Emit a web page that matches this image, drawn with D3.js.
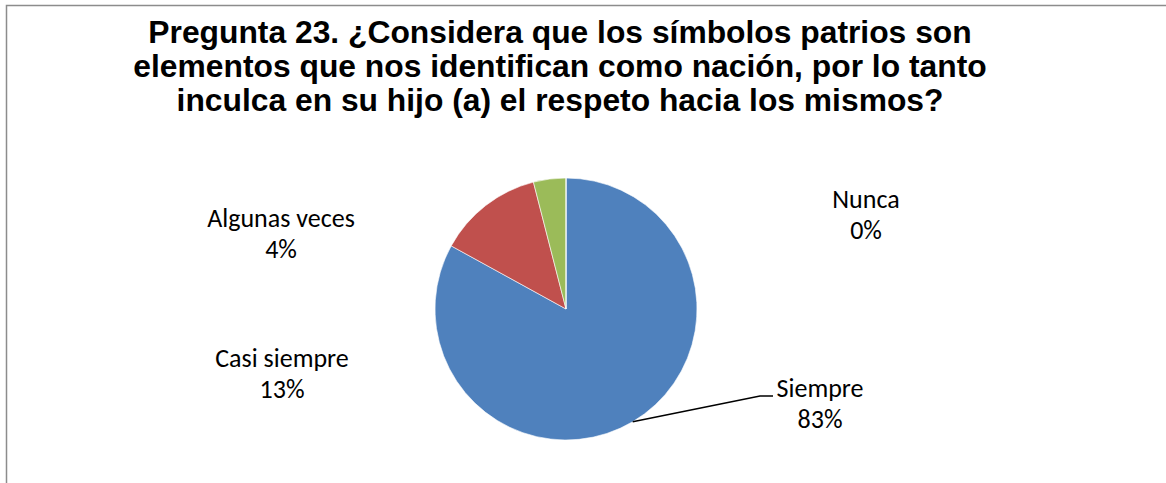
<!doctype html>
<html>
<head>
    <meta charset="utf-8">
    <style>
        body { margin: 0; background: #fff; }
        .title { font-family: "Liberation Sans", Arial, sans-serif; font-weight: bold; font-size: 31.8px; fill: #000; }
        .lbl { font-family: Carlito, Calibri, "Open Sans", sans-serif; font-size: 26px; fill: #000; }
    </style>
    <script src="https://d3js.org/d3.v7.min.js"></script>
</head>
<body>
    <svg width="1166" height="483"></svg>
    <script>
        // data
        var categories = ["Siempre", "Casi siempre", "Algunas veces", "Nunca"];
        var values = [83, 13, 4, 0];
        var colors = ["#4F81BD", "#C0504D", "#9BBB59", "#8064A2"];
        var titleLines = [
            "Pregunta 23. ¿Considera que los símbolos patrios son",
            "elementos que nos identifican como nación, por lo tanto",
            "inculca en su hijo (a) el respeto hacia los mismos?"
        ];

        // label placement (center x, first baseline y, in px)
        var labelPos = [[820, 397], [282, 367], [281, 227], [866, 208]];

        var svg = d3.select("svg");

        // chart frame
        svg.append("rect")
            .attr("x", 6.5).attr("y", 5.5)
            .attr("width", 1170).attr("height", 500)
            .attr("fill", "#fff")
            .attr("stroke", "#8c8c8c")
            .attr("stroke-width", 1.5);

        // title
        svg.append("g").selectAll("text")
            .data(titleLines)
            .enter().append("text")
            .attr("class", "title")
            .attr("text-anchor", "middle")
            .attr("x", 560)
            .attr("y", function (d, i) { return 43 + i * 34; })
            .text(function (d) { return d; });

        var cx = 566, cy = 309, r = 131;

        var pie = d3.pie().sort(null).value(function (d) { return d; });
        var arcs = pie(values);
        var arc = d3.arc().innerRadius(0).outerRadius(r);

        var g = svg.append("g")
            .attr("transform", "translate(" + cx + "," + cy + ")");

        g.selectAll("path")
            .data(arcs)
            .enter().append("path")
            .attr("d", arc)
            .attr("fill", function (d, i) { return colors[i]; })
            .attr("stroke", "#fff")
            .attr("stroke-width", 0.6);

        // leader line for Siempre
        var s = arcs[0];
        var mid = (s.startAngle + s.endAngle) / 2;
        var p0 = [cx + r * Math.sin(mid), cy - r * Math.cos(mid)];
        svg.append("polyline")
            .attr("points", [p0, [760, 396], [773, 396]].map(function (p) { return p.join(","); }).join(" "))
            .attr("fill", "none")
            .attr("stroke", "#000")
            .attr("stroke-width", 1.5);

        // data labels
        var lg = svg.append("g").selectAll("g")
            .data(arcs)
            .enter().append("g")
            .attr("transform", function (d, i) { return "translate(" + labelPos[i][0] + "," + labelPos[i][1] + ")"; });

        lg.append("text")
            .attr("class", "lbl")
            .attr("text-anchor", "middle")
            .attr("y", 0)
            .text(function (d, i) { return categories[i]; });

        lg.append("text")
            .attr("class", "lbl")
            .attr("text-anchor", "middle")
            .attr("y", 31)
            .text(function (d, i) { return values[i] + "%"; });
    </script>
</body>
</html>
